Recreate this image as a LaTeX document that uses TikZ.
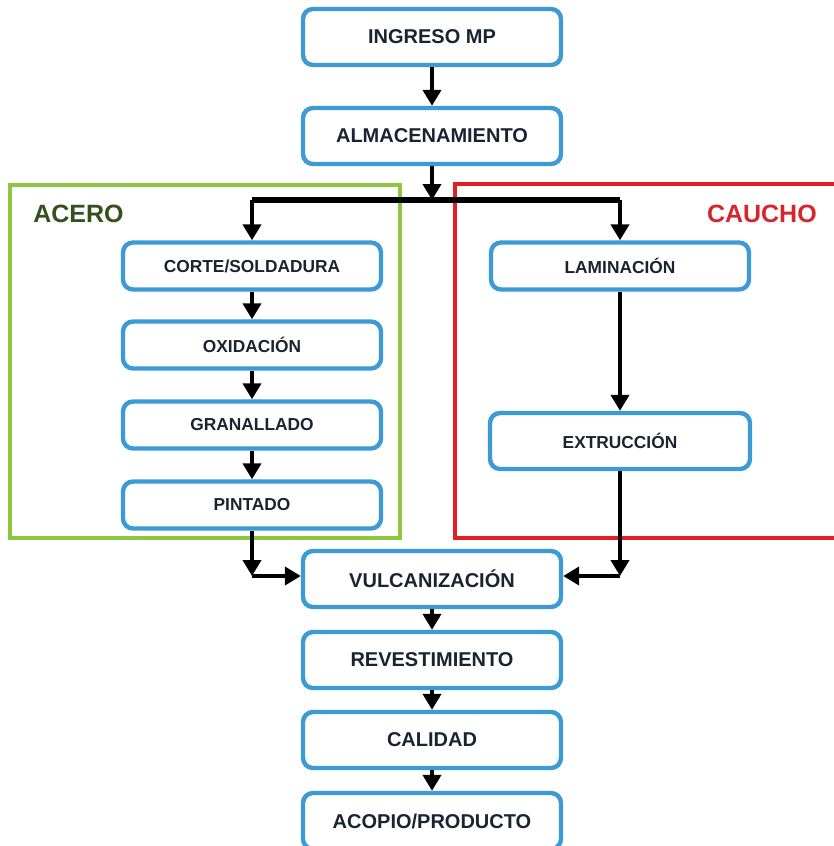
\documentclass[tikz,border=0pt]{standalone}
\usepackage{fontspec}
\setmainfont{Liberation Sans}
\usepackage{xcolor}
\definecolor{flujo-azul}{HTML}{3C9BD6}
\definecolor{flujo-texto}{HTML}{1A2431}
\definecolor{flujo-verde}{HTML}{8DC63F}
\definecolor{flujo-rojo}{HTML}{E31E24}
\definecolor{acero-texto}{HTML}{34501C}
\definecolor{caucho-texto}{HTML}{D7262B}
\usepackage{tikz}
\usetikzlibrary{arrows.meta}

\tikzset{
  proceso/.style={draw=flujo-azul, line width=3.3pt, rounded corners=7.5pt, fill=white,
    minimum width=193.5pt, minimum height=42pt, text=flujo-texto,
    font=\fontsize{15}{18}\selectfont\bfseries},
  subproceso/.style={proceso, minimum height=35.25pt,
    font=\fontsize{13}{15}\selectfont\bfseries},
  titulo/.style={inner sep=0pt, font=\fontsize{18.75}{22}\selectfont\bfseries},
  flecha/.style={line width=3.5pt, -{Triangle[width=13.5pt,length=12pt]}},
  linea/.style={line width=4.5pt},
}

\begin{document}
\begin{tikzpicture}[x=0.75pt,y=-0.75pt]

    % Lienzo
    \useasboundingbox (0,0) rectangle (833,846);
    \fill[white] (0,0) rectangle (833,846);

    % Marcos
    \draw[flujo-verde, line width=3.3pt] (10,185) rectangle (400,538);
    \draw[flujo-rojo, line width=3.3pt] (455,184) rectangle (860,538);

    % Titulos
    \node[titulo, text=acero-texto, anchor=west] (acero) at (33,214) {ACERO};
    \node[titulo, text=caucho-texto, anchor=east] (caucho) at (817,214) {CAUCHO};

    % Linea principal
    \node[proceso] (ingreso) at (432,37) {INGRESO MP};
    \node[proceso] (almacen) at (432,136) {ALMACENAMIENTO};
    \node[proceso] (vulcanizado) at (432,579) {VULCANIZACIÓN};
    \node[proceso] (revestimiento) at (432,660) {REVESTIMIENTO};
    \node[proceso] (calidad) at (432,740) {CALIDAD};
    \node[proceso] (acopio) at (432,821) {ACOPIO/PRODUCTO};

    % Acero
    \node[subproceso] (corte) at (252,266) {CORTE/SOLDADURA};
    \node[subproceso] (oxidacion) at (252,345) {OXIDACIÓN};
    \node[subproceso] (granallado) at (252,425) {GRANALLADO};
    \node[subproceso] (pintado) at (252,505) {PINTADO};

    % Caucho
    \node[subproceso] (laminacion) at (620,266) {LAMINACIÓN};
    \node[subproceso, minimum width=195pt, minimum height=42pt] (extrucción) at (620,441) {EXTRUCCIÓN};

    % Puntos de union
    \coordinate (union) at (432,200);
    \coordinate (union-izq) at (252,200);
    \coordinate (union-der) at (620,200);
    \coordinate (codo-izq) at (252,576);
    \coordinate (codo-der) at (620,576);

    % Flechas
    \draw[flecha] (ingreso) -- (almacen);
    \draw[flecha] (almacen) -- (union);
    \draw[linea] (union-izq) -- (union-der);
    \draw[flecha] (union-izq) -- (corte);
    \draw[flecha] (union-der) -- (laminacion);

    \draw[flecha] (corte) -- (oxidacion);
    \draw[flecha] (oxidacion) -- (granallado);
    \draw[flecha] (granallado) -- (pintado);
    \draw[flecha] (pintado) -- (codo-izq);
    \draw[flecha] (codo-izq) -- (codo-izq -| vulcanizado.west);

    \draw[flecha] (laminacion) -- (extrucción);
    \draw[flecha] (extrucción) -- (codo-der);
    \draw[flecha] (codo-der) -- (codo-der -| vulcanizado.east);

    \draw[flecha] (vulcanizado) -- (revestimiento);
    \draw[flecha] (revestimiento) -- (calidad);
    \draw[flecha] (calidad) -- (acopio);

\end{tikzpicture}
\end{document}
